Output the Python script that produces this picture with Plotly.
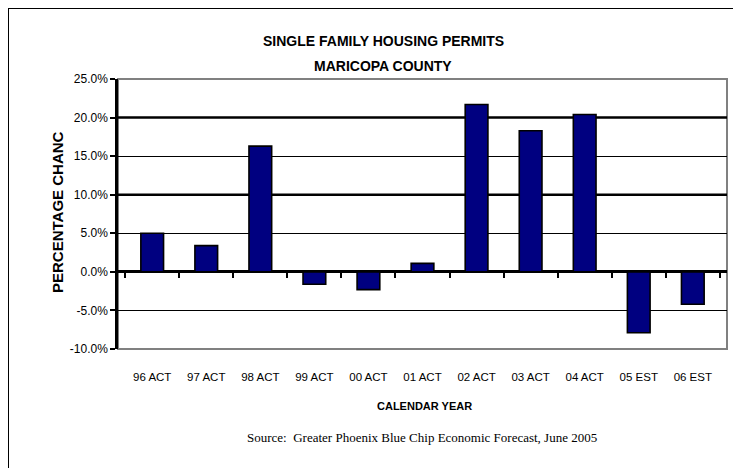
import plotly.graph_objects as go

categories = ["96 ACT", "97 ACT", "98 ACT", "99 ACT", "00 ACT", "01 ACT",
              "02 ACT", "03 ACT", "04 ACT", "05 EST", "06 EST"]
pct_change = [5.0, 3.4, 16.3, -1.6, -2.3, 1.1, 21.7, 18.3, 20.4, -7.9, -4.2]
y_ticks = [-10, -5, 0, 5, 10, 15, 20, 25]
y_tick_labels = ["-10.0%", "-5.0%", "0.0%", "5.0%", "10.0%", "15.0%", "20.0%", "25.0%"]

# the page body adds an 8px offset; work in page pixels and convert
O = 8
W, H = 733, 460
L, T = 118 - O, 79 - O
R = W - (727 - O)
B = H - (349 - O)
pw, ph = W - L - R, H - T - B

def px_x(x):
    return (x - O - L) / pw

def px_y(y):
    return 1 - (y - O - T) / ph

sans = "Liberation Sans, Arial"

fig = go.Figure()
fig.add_trace(go.Bar(
    x=categories, y=pct_change,
    marker=dict(color="#000080", line=dict(color="black", width=1.6)),
    width=0.42, hoverinfo="skip", showlegend=False,
))
# invisible trace carrying the tick axis that sits on the zero line
fig.add_trace(go.Scatter(x=categories, y=[0] * len(categories), xaxis="x2",
                         mode="markers", marker=dict(opacity=0), showlegend=False,
                         hoverinfo="skip"))

fig.update_layout(
    width=W, height=H,
    margin=dict(l=L, r=R, t=T, b=B),
    paper_bgcolor="white", plot_bgcolor="white",
    xaxis=dict(
        type="category", categoryorder="array", categoryarray=categories,
        showgrid=False, zeroline=False, showline=False, ticks="",
        tickfont=dict(family=sans, size=11.5, color="black"),
        ticklabelstandoff=19,
    ),
    xaxis2=dict(
        type="category", categoryorder="array", categoryarray=categories,
        overlaying="x", matches="x", anchor="free", position=10 / 35, side="bottom",
        showgrid=False, zeroline=False, showline=False, showticklabels=False,
        ticks="outside", ticklen=5, tickwidth=2, tickcolor="black",
        tickson="boundaries",
    ),
    yaxis=dict(
        range=[-10, 25], tickmode="array", tickvals=y_ticks, ticktext=y_tick_labels,
        showgrid=True, gridcolor="black", gridwidth=1,
        zeroline=True, zerolinecolor="black", zerolinewidth=2.5,
        showline=True, linecolor="black", linewidth=2.5,
        ticks="outside", ticklen=5, tickwidth=2, tickcolor="black",
        tickfont=dict(family=sans, size=12, color="black"),
    ),
    shapes=[
        dict(type="rect", xref="paper", yref="paper", x0=0, x1=1, y0=0, y1=1,
             line=dict(color="#808080", width=2), layer="below"),
        dict(type="line", xref="paper", yref="y", x0=0, x1=1, y0=10, y1=10,
             line=dict(color="black", width=2.5), layer="below"),
        dict(type="line", xref="paper", yref="y", x0=0, x1=1, y0=20, y1=20,
             line=dict(color="black", width=2.5), layer="below"),
        dict(type="line", xref="paper", yref="paper", x0=px_x(8), x1=px_x(8),
             y0=px_y(8), y1=px_y(480), line=dict(color="black", width=2)),
        dict(type="line", xref="paper", yref="paper", x0=px_x(8), x1=px_x(760),
             y0=px_y(8), y1=px_y(8), line=dict(color="black", width=2)),
    ],
    annotations=[
        dict(text="<b>SINGLE FAMILY HOUSING PERMITS</b>", xref="paper", yref="paper",
             x=px_x(383), y=px_y(41), xanchor="center", yanchor="middle", showarrow=False,
             font=dict(family=sans, size=14, color="black")),
        dict(text="<b>MARICOPA COUNTY</b>", xref="paper", yref="paper",
             x=px_x(383), y=px_y(66), xanchor="center", yanchor="middle", showarrow=False,
             font=dict(family=sans, size=14, color="black")),
        dict(text="<b>PERCENTAGE CHANC</b>", xref="paper", yref="paper",
             x=px_x(57), y=px_y(212), xanchor="center", yanchor="middle",
             textangle=-90, showarrow=False,
             font=dict(family=sans, size=15, color="black")),
        dict(text="<b>CALENDAR YEAR</b>", xref="paper", yref="paper",
             x=px_x(424), y=px_y(406), xanchor="center", yanchor="middle", showarrow=False,
             font=dict(family=sans, size=11, color="black")),
        dict(text="Source:  Greater Phoenix Blue Chip Economic Forecast, June 2005",
             xref="paper", yref="paper", x=px_x(422), y=px_y(437),
             xanchor="center", yanchor="middle", showarrow=False,
             font=dict(family="Liberation Serif, Times New Roman", size=13, color="black")),
    ],
)

fig.write_html("out.html")
